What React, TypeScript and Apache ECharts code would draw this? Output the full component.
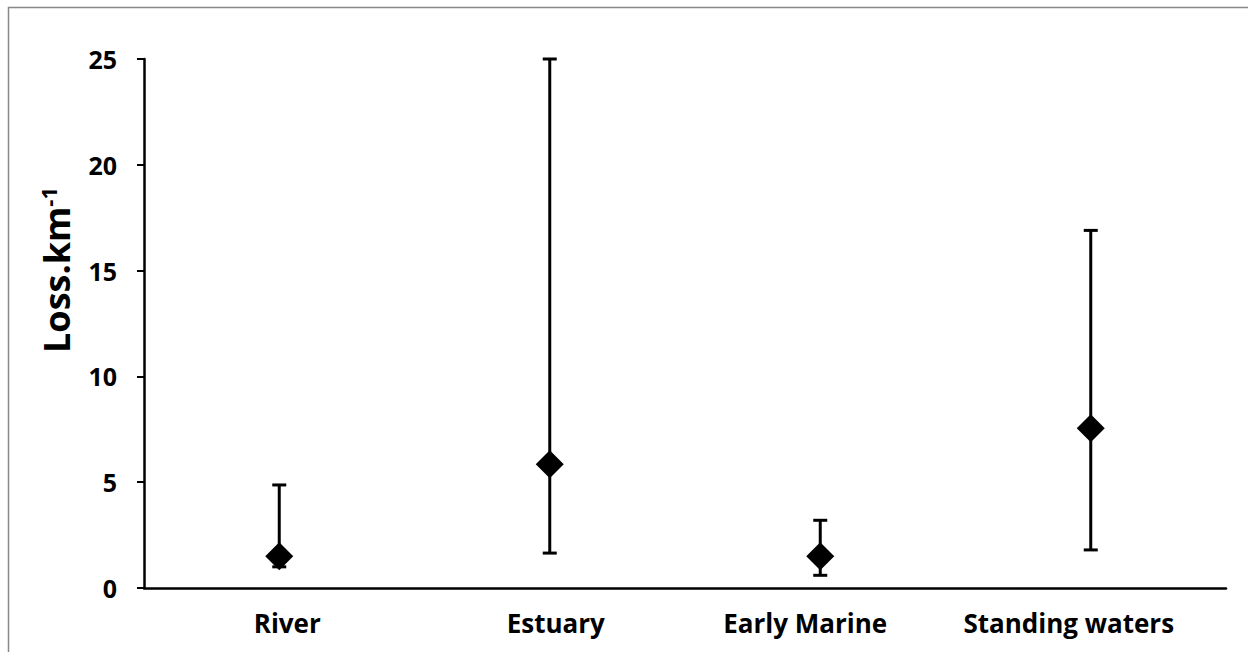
import React, { useEffect, useRef } from "react";
import * as echarts from "echarts";

const categories = ["River", "Estuary", "Early Marine", "Standing waters"];
const means = [1.5, 5.85, 1.5, 7.55];
const upper = [4.87, 25, 3.2, 16.9];
const lower = [1.0, 1.65, 0.6, 1.8];
const yTicks = [0, 5, 10, 15, 20, 25];
const labelShift = [16, 12, -30, -44];

export default function App() {
  const ref = useRef<HTMLDivElement>(null);
  useEffect(() => {
    if (!ref.current) return;
    const chart = echarts.init(ref.current, null, { renderer: "svg" });
    const font = "'Open Sans', 'Liberation Sans', sans-serif";
    chart.setOption({
      animation: false,
      backgroundColor: "#fff",
      graphic: [
        {
          type: "rect",
          shape: { x: 8.5, y: 7.5, width: 1260, height: 660 },
          style: { fill: "none", stroke: "#888", lineWidth: 1.5 },
          silent: true,
        },
        {
          type: "text",
          x: 56,
          y: 270,
          rotation: Math.PI / 2,
          style: {
            text: "{a|Loss.km}{b|-1}",
            align: "center",
            verticalAlign: "middle",
            rich: {
              a: { fontFamily: font, fontWeight: "bold", fontSize: 36, fill: "#000" },
              b: {
                fontFamily: font,
                fontWeight: "bold",
                fontSize: 22,
                fill: "#000",
                verticalAlign: "top",
                padding: [0, 0, 16, 0],
              },
            },
          },
          silent: true,
        },
      ],
      grid: { left: 144, top: 59, right: 22, bottom: 64 },
      xAxis: {
        type: "category",
        data: categories.map((c, i) => ({
          value: c,
          textStyle: {
            padding: labelShift[i] >= 0 ? [0, 0, 0, labelShift[i]] : [0, -labelShift[i], 0, 0],
          },
        })),
        axisLine: { lineStyle: { color: "#000", width: 2.5 } },
        axisTick: { show: false },
        axisLabel: {
          color: "#000",
          fontFamily: font,
          fontWeight: "bold",
          fontSize: 26,
          margin: 22,
          interval: 0,
        },
        splitLine: { show: false },
      },
      yAxis: {
        type: "value",
        min: yTicks[0],
        max: yTicks[yTicks.length - 1],
        interval: 5,
        axisLine: { show: true, lineStyle: { color: "#000", width: 2.5 } },
        axisTick: { show: true, length: 7, lineStyle: { color: "#000", width: 2 } },
        axisLabel: {
          color: "#000",
          fontFamily: font,
          fontWeight: "bold",
          fontSize: 25,
          margin: 27,
        },
        splitLine: { show: false },
      },
      series: [
        {
          type: "custom",
          data: categories.map((c, i) => [i, lower[i], upper[i]]),
          renderItem: (params: any, api: any) => {
            const x = api.value(0);
            const lo = api.coord([x, api.value(1)]);
            const hi = api.coord([x, api.value(2)]);
            const hw = 7;
            const style = { stroke: "#000", lineWidth: 3 };
            return {
              type: "group",
              children: [
                { type: "line", shape: { x1: hi[0], y1: hi[1], x2: lo[0], y2: lo[1] }, style },
                { type: "line", shape: { x1: hi[0] - hw, y1: hi[1], x2: hi[0] + hw, y2: hi[1] }, style },
                { type: "line", shape: { x1: lo[0] - hw, y1: lo[1], x2: lo[0] + hw, y2: lo[1] }, style },
              ],
            };
          },
          z: 2,
        },
        {
          type: "scatter",
          data: means,
          symbol: "diamond",
          symbolSize: [28, 28],
          itemStyle: { color: "#000", opacity: 1 },
          z: 3,
        },
      ],
    });
    return () => chart.dispose();
  }, []);
  return (
    <div
      ref={ref}
      style={{ position: "fixed", left: 0, top: 0, width: 1248, height: 652 }}
    />
  );
}
